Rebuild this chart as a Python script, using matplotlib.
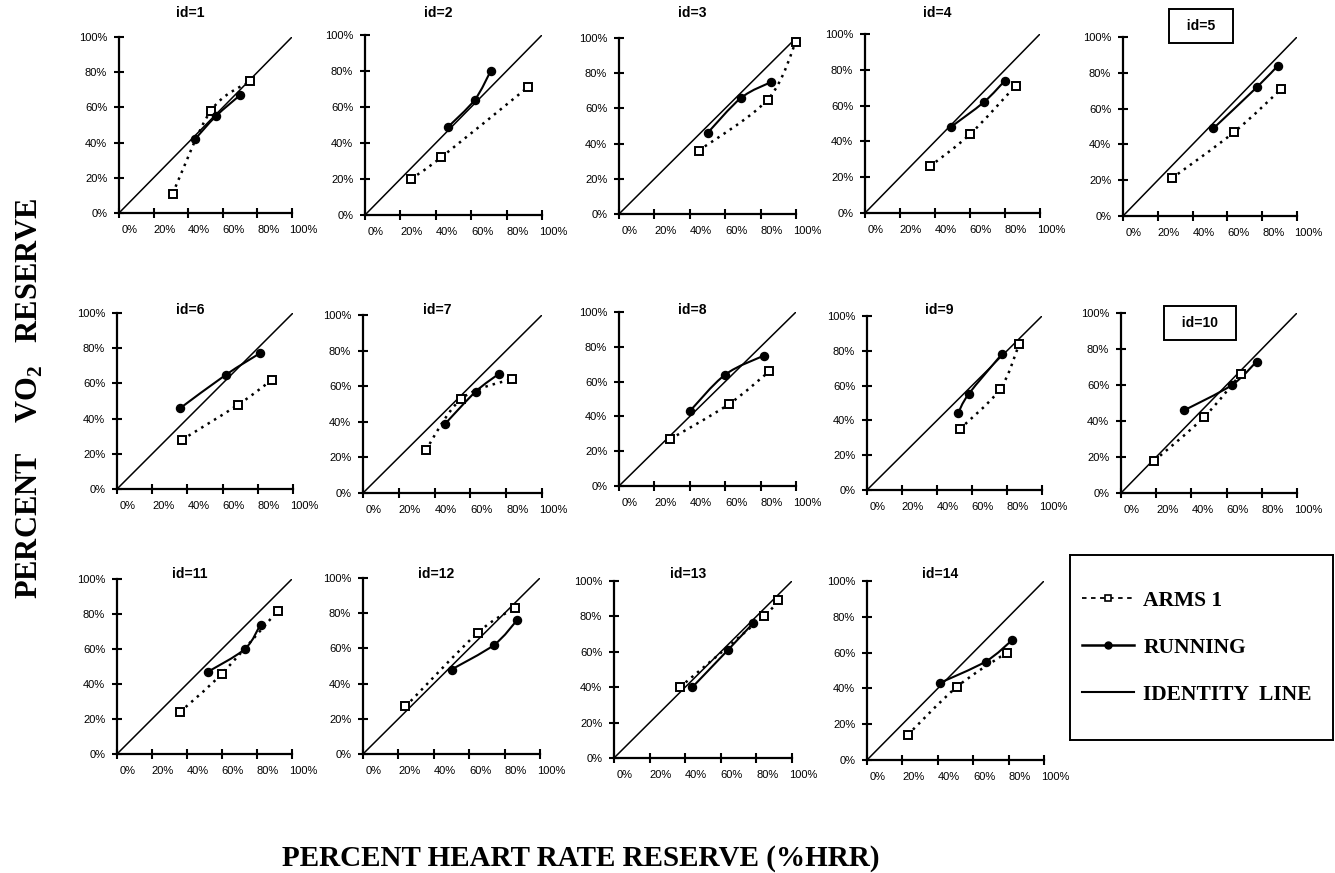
import numpy as np
import matplotlib
matplotlib.use("Agg")
import matplotlib.pyplot as plt
from matplotlib.path import Path
from matplotlib.patches import PathPatch
from matplotlib.lines import Line2D
from matplotlib.transforms import ScaledTranslation

plt.rcParams['font.family'] = ['Liberation Sans', 'DejaVu Sans']
plt.rcParams['mathtext.fontset'] = 'custom'
plt.rcParams['mathtext.rm'] = 'Liberation Serif:bold'
plt.rcParams['mathtext.bf'] = 'Liberation Serif:bold'

# data (percent HRR on x, percent VO2R on y)
panel_ids = [1, 2, 3, 4, 5, 6, 7, 8, 9, 10, 11, 12, 13, 14]
boxed_ids = [5, 10]

arms_x = [[31, 53, 76], [26, 43, 92], [45, 84, 100], [37, 60, 86], [28, 64, 91],
          [37, 69, 88], [35, 55, 83], [29, 62, 85], [53, 76, 87], [19, 47, 68],
          [36, 60, 92], [24, 65, 86], [37, 84, 92], [23, 51, 79]]
arms_y = [[11, 58, 75], [20, 32, 71], [36, 65, 98], [26, 44, 71], [21, 47, 71],
          [28, 48, 62], [24, 53, 64], [27, 47, 66], [35, 58, 84], [18, 42, 66],
          [24, 46, 82], [27, 69, 83], [40, 80, 89], [14, 41, 60]]
run_x = [[44, 56, 70], [47, 62, 71], [50, 69, 86], [49, 68, 80], [52, 77, 89],
         [36, 62, 81], [46, 63, 76], [40, 60, 82], [52, 58, 77], [36, 63, 77],
         [52, 73, 82], [50, 74, 87], [44, 64, 78], [41, 67, 82]]
run_y = [[42, 55, 67], [49, 64, 80], [46, 66, 75], [48, 62, 74], [49, 72, 84],
         [46, 65, 77], [39, 57, 67], [43, 64, 75], [44, 55, 78], [46, 60, 73],
         [47, 60, 74], [48, 62, 76], [40, 61, 76], [43, 55, 67]]

ticks = [0, 20, 40, 60, 80, 100]
tick_labels = ['0%', '20%', '40%', '60%', '80%', '100%']

W, H = 1335, 873
# axes boxes in pixels: left, right, top, bottom
boxes = [(119, 292, 37, 213), (365, 542, 35, 215), (619, 796, 38, 214),
         (865, 1040, 34, 213), (1123, 1297, 37, 216),
         (117, 293, 313, 489), (363, 542, 315, 493), (619, 796, 312, 486),
         (867, 1042, 316, 490), (1121, 1297, 313, 493),
         (117, 292, 579, 754), (363, 540, 578, 754), (614, 792, 581, 758),
         (867, 1044, 581, 760)]
title_y = [13, 310, 574]


def smooth_path(xs, ys):
    # excel style smoothed line through the points
    pts = np.column_stack([xs, ys]).astype(float)
    n = len(pts)
    verts = [pts[0]]
    codes = [Path.MOVETO]
    for i in range(n - 1):
        p0 = pts[max(i - 1, 0)]
        p1 = pts[i]
        p2 = pts[i + 1]
        p3 = pts[min(i + 2, n - 1)]
        verts += [p1 + (p2 - p0) / 6, p2 - (p3 - p1) / 6, p2]
        codes += [Path.CURVE4] * 3
    return Path(verts, codes)


fig = plt.figure(figsize=(W / 100, H / 100), dpi=100)

for i, pid in enumerate(panel_ids):
    l, r, t, b = boxes[i]
    ax = fig.add_axes([l / W, 1 - b / H, (r - l) / W, (b - t) / H])
    ax.set_xlim(0, 100)
    ax.set_ylim(0, 100)

    ax.plot([0, 100], [0, 100], color='black', lw=1.1, zorder=2)
    ax.add_patch(PathPatch(smooth_path(arms_x[i], arms_y[i]), fill=False,
                           ls=(0, (1, 2)), lw=1.8, ec='black', zorder=3))
    ax.plot(arms_x[i], arms_y[i], ls='none', marker='s', ms=5.2, mfc='white',
            mec='black', mew=1.4, clip_on=False, zorder=4)
    ax.add_patch(PathPatch(smooth_path(run_x[i], run_y[i]), fill=False,
                           lw=1.5, ec='black', zorder=3))
    ax.plot(run_x[i], run_y[i], ls='none', marker='o', ms=5.8, color='black',
            clip_on=False, zorder=5)

    ax.spines['top'].set_visible(False)
    ax.spines['right'].set_visible(False)
    ax.spines['left'].set_linewidth(1.6)
    ax.spines['bottom'].set_linewidth(1.6)
    ax.set_xticks(ticks)
    ax.set_yticks(ticks)
    ax.set_xticklabels(tick_labels)
    ax.set_yticklabels(tick_labels)
    ax.tick_params(direction='inout', length=7, width=1.5, labelsize=8, pad=5)
    for lab in ax.get_xticklabels():
        lab.set_transform(lab.get_transform() +
                          ScaledTranslation(0.11, 0, fig.dpi_scale_trans))
    ax.patch.set_alpha(0)

    row = i // 5
    if pid in boxed_ids:
        fig.text(((l + r) / 2 - 9) / W, 1 - (title_y[row] + 13) / H, '  id=%d  ' % pid,
                 ha='center', va='center', fontsize=10, fontweight='bold',
                 bbox=dict(boxstyle='square,pad=0.7', fc='white', ec='black', lw=1.4))
    else:
        fig.text(((l + r) / 2 - 15) / W, 1 - title_y[row] / H, 'id=%d' % pid,
                 ha='center', va='center', fontsize=10, fontweight='bold')

# legend box
lax = fig.add_axes([1070 / W, 1 - 740 / H, 263 / W, 185 / H])
lax.set_xticks([])
lax.set_yticks([])
for s in lax.spines.values():
    s.set_linewidth(1.4)
handles = [
    Line2D([], [], color='black', ls=(0, (2.5, 2.5)), lw=1.3, marker='s', ms=5,
           mfc='white', mec='black', mew=1.2),
    Line2D([], [], color='black', lw=1.8, marker='o', ms=5),
    Line2D([], [], color='black', lw=1.5),
]
lax.legend(handles, ['ARMS 1', 'RUNNING', 'IDENTITY  LINE'], loc='center left',
           bbox_to_anchor=(0, 0.5), frameon=False, handlelength=2.4,
           handletextpad=0.45, labelspacing=1.25, borderaxespad=0.15,
           prop=dict(family='Liberation Serif', weight='bold', size=15.5))

fig.text(581 / W, 1 - 858 / H, 'PERCENT HEART RATE RESERVE (%HRR)', ha='center',
         va='center', family='Liberation Serif', fontweight='bold', fontsize=21)
fig.text(30 / W, 1 - 398 / H, r'PERCENT    VO$_2$   RESERVE', rotation=90,
         ha='center', va='center', family='Liberation Serif', fontweight='bold',
         fontsize=22)

fig.savefig('out.png', dpi=100)
